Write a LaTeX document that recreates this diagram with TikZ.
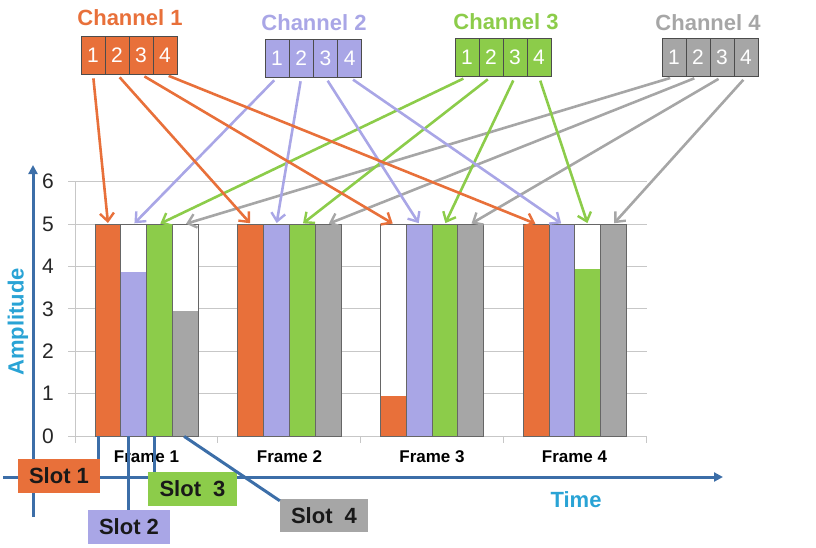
\documentclass[tikz,border=0pt]{standalone}
\usepackage{fontspec}
\setmainfont{Liberation Sans}
\usetikzlibrary{arrows.meta}
\definecolor{corange}{HTML}{E8703A}
\definecolor{clav}{HTML}{A9A6E6}
\definecolor{cgreen}{HTML}{8CCC4A}
\definecolor{cgray}{HTML}{A6A6A6}
\definecolor{caxis}{HTML}{3C6EA8}
\definecolor{ccyan}{HTML}{29A3D5}
\newcommand\slotbar[4]{%
  \node[barframe, anchor=north west] (#1) at (#2,224) {};
  \fill[#4] (#2,436) rectangle ++(25.7,{-42.4*#3});
  \draw[barline] (#1.north west) rectangle (#1.south east);
}
\begin{document}
\begin{tikzpicture}[x=1pt,y=-1pt,
  grid/.style={draw=black!22, line width=0.8pt},
  num/.style={font=\fontsize{21}{24}\selectfont, text=black!85},
  barframe/.style={rectangle, inner sep=0pt, minimum width=25.7pt, minimum height=212pt, fill=white},
  barline/.style={draw=black!60, line width=0.6pt},
  cbox/.style={rectangle, inner sep=0pt, minimum width=24pt, minimum height=38pt, draw=black!70, line width=0.7pt, text=white, font=\fontsize{21}{24}\selectfont},
  ctitle/.style={font=\bfseries\fontsize{22}{26}\selectfont},
  arr/.style={line width=2.6pt, shorten <=4pt, shorten >=1pt, -{Straight Barb[length=8pt,width=14pt,line width=2.4pt]}},
  slotlab/.style={rectangle, inner sep=0pt, minimum height=34pt, font=\bfseries\fontsize{22}{26}\selectfont, text=black!90},
  slotline/.style={draw=caxis, line width=3pt},
  axisline/.style={draw=caxis, line width=3pt},
  flab/.style={font=\bfseries\fontsize{17}{20}\selectfont},
  alab/.style={font=\bfseries\fontsize{22}{26}\selectfont, text=ccyan}
]
\useasboundingbox (0,0) rectangle (816,547);

% grid
\foreach \v in {0,...,6} {
  \draw[grid] (68,{436-42.4*\v}) -- (647,{436-42.4*\v});
  \node[num] (n\v) at (48,{436-42.4*\v}) {\v};
}
\draw[grid] (75,{436-42.4*6}) -- (75,436);
\foreach \b in {0,...,4} \draw[grid] ({75+142.75*\b},436) -- ++(0,7);

% bars: frame 1
\slotbar{b11}{95}{5}{corange}
\slotbar{b12}{120.7}{3.87}{clav}
\slotbar{b13}{146.4}{5}{cgreen}
\slotbar{b14}{172.1}{2.95}{cgray}
% frame 2
\slotbar{b21}{237.75}{5}{corange}
\slotbar{b22}{263.45}{5}{clav}
\slotbar{b23}{289.15}{5}{cgreen}
\slotbar{b24}{314.85}{5}{cgray}
% frame 3
\slotbar{b31}{380.5}{0.95}{corange}
\slotbar{b32}{406.2}{5}{clav}
\slotbar{b33}{431.9}{5}{cgreen}
\slotbar{b34}{457.6}{5}{cgray}
% frame 4
\slotbar{b41}{523.25}{5}{corange}
\slotbar{b42}{548.95}{5}{clav}
\slotbar{b43}{574.65}{3.93}{cgreen}
\slotbar{b44}{600.35}{5}{cgray}

% frame labels
\node[flab] (f1) at (146.5,457) {Frame 1};
\node[flab] (f2) at (289.5,457) {Frame 2};
\node[flab] (f3) at (432,457) {Frame 3};
\node[flab] (f4) at (574.5,457) {Frame 4};

% axes
\coordinate (ybot) at (33,517);
\coordinate (ytop) at (33,165);
\coordinate (xl) at (3,477);
\coordinate (xr) at (723,477);
\draw[axisline, -{Triangle[length=9pt,width=9pt]}] (ybot) -- (ytop);
\draw[axisline, -{Triangle[length=9pt,width=9pt]}] (xl) -- (xr);
\node[alab, rotate=90] (amp) at (18,322) {Amplitude};
\node[alab] (time) at (576,500) {Time};

% slot labels
\node[slotlab, fill=corange, minimum width=82pt] (sl1) at (59,476) {Slot 1};
\node[slotlab, fill=clav, minimum width=82pt] (sl2) at (129,527) {Slot 2};
\node[slotlab, fill=cgreen, minimum width=89pt] (sl3) at (192.5,489) {Slot\hspace{0.55em}3};
\node[slotlab, fill=cgray, minimum width=88pt, minimum height=33pt] (sl4) at (324,515.5) {Slot\hspace{0.55em}4};

% slot connectors
\draw[slotline] ([xshift=3pt]b11.south west) -- ([xshift=3pt]b11.south west |- sl1.north);
\draw[slotline] ([xshift=8pt]b12.south west) -- ([xshift=8pt]b12.south west |- sl2.north);
\draw[slotline] ([xshift=8pt]b13.south west) -- ([xshift=8pt]b13.south west |- sl3.north);
\draw[slotline] ([xshift=-1pt]b14.south) -- ([yshift=-2pt]sl4.north west);

% channel titles
\node[ctitle, text=corange] (t1) at (130,18) {Channel 1};
\node[ctitle, text=clav] (t2) at (314,23) {Channel 2};
\node[ctitle, text=cgreen] (t3) at (506,22) {Channel 3};
\node[ctitle, text=cgray] (t4) at (708,23) {Channel 4};

% channel boxes
\foreach \i/\x in {1/93,2/117,3/141,4/165}
  \node[cbox, fill=corange] (c1s\i) at (\x,55) {\i};
\foreach \i/\x in {1/277,2/301.25,3/325.5,4/349.75}
  \node[cbox, fill=clav] (c2s\i) at (\x,58) {\i};
\foreach \i/\x in {1/467,2/491,3/515,4/539}
  \node[cbox, fill=cgreen] (c3s\i) at (\x,57.5) {\i};
\foreach \i/\x in {1/674,2/698,3/722,4/746}
  \node[cbox, fill=cgray] (c4s\i) at (\x,57.5) {\i};

% arrows
\foreach \s in {1,...,4} {
  \draw[arr, corange] (c1s\s.south) -- (b\s1.north);
  \draw[arr, clav] (c2s\s.south) -- (b\s2.north);
  \draw[arr, cgreen] (c3s\s.south) -- (b\s3.north);
  \draw[arr, cgray] (c4s\s.south) -- (b\s4.north);
}
\end{tikzpicture}
\end{document}
